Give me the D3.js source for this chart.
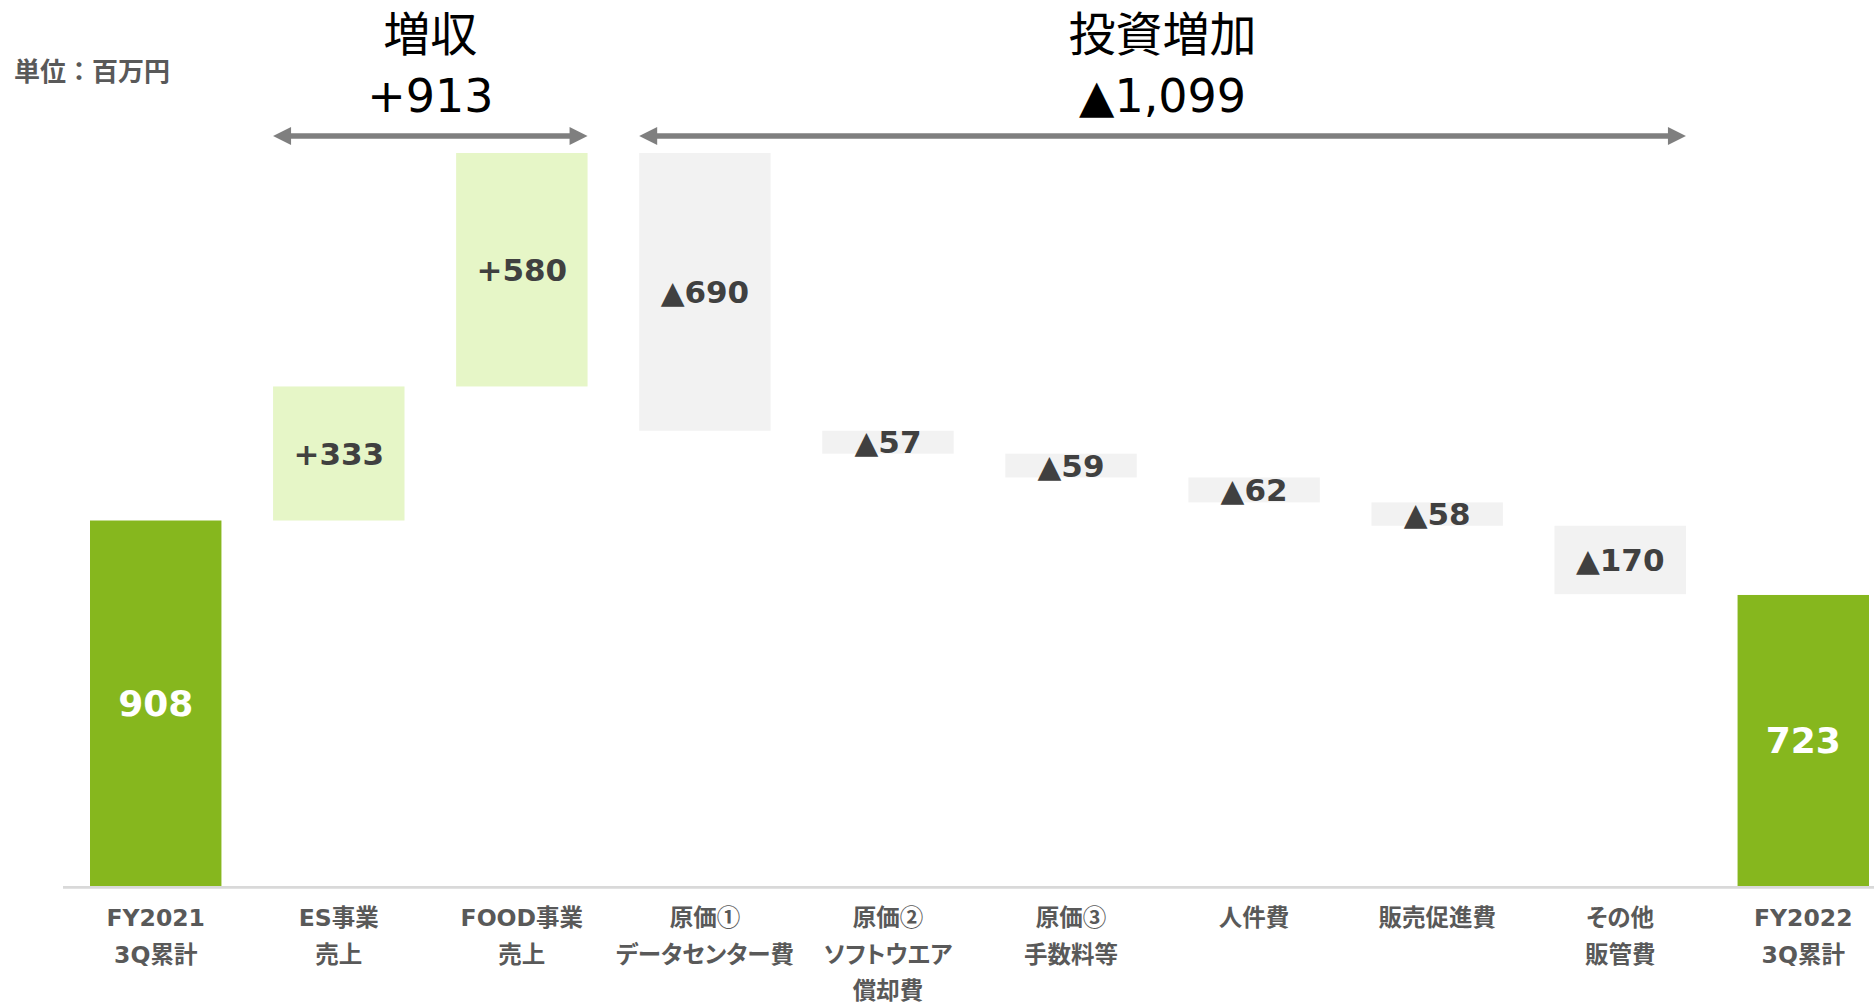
<!DOCTYPE html>
<html>
<head>
<meta charset="utf-8">
<script src="https://cdn.jsdelivr.net/npm/d3@7"></script>
<style>
  html, body { margin: 0; padding: 0; background: #ffffff; }
  svg { display: block; }
  text { font-feature-settings: "palt"; }
  text.unit { font-feature-settings: normal; }
  tspan.circled { font-family: 'Noto Sans CJK JP', sans-serif; font-feature-settings: normal; }
</style>
</head>
<body>
<svg id="chart" width="1874" height="1006"></svg>
<script>
// Operating profit bridge, FY2021 3Q → FY2022 3Q (million yen)
const categories = ["FY2021 3Q累計", "ES事業 売上", "FOOD事業 売上", "原価① データセンター費",
  "原価② ソフトウエア 償却費", "原価③ 手数料等", "人件費", "販売促進費", "その他 販管費", "FY2022 3Q累計"];
const categoryLines = [
  ["FY2021", "3Q累計"], ["ES事業", "売上"], ["FOOD事業", "売上"], ["原価①", "データセンター費"],
  ["原価②", "ソフトウエア", "償却費"], ["原価③", "手数料等"], ["人件費"], ["販売促進費"],
  ["その他", "販管費"], ["FY2022", "3Q累計"]
];
const values = [908, 333, 580, -690, -57, -59, -62, -58, -170, 723];
const barTypes = ["total", "increase", "increase", "decrease", "decrease", "decrease",
  "decrease", "decrease", "decrease", "total"];

const groupTitles = ["増収", "投資増加"];
const groupValueLabels = ["+913", "▲1,099"];
const groupSpans = [[1, 2], [3, 8]];
const unitLabel = "単位：百万円";

const colors = { total: "#86B71E", increase: "#E6F6C7", decrease: "#F2F2F2" };
const latinCjk = "'DejaVu Sans', 'Noto Sans CJK JP', sans-serif";

// Build the floating segments of the waterfall
let running = 0;
const bars = values.map((v, i) => {
  let lo, hi;
  if (barTypes[i] === "total") { lo = 0; hi = v; running = v; }
  else { const start = running; running += v; lo = Math.min(start, running); hi = Math.max(start, running); }
  return { cat: categories[i], value: v, type: barTypes[i], lo, hi };
});

const svg = d3.select("#chart");

const x = d3.scaleBand().domain(categories).range([90, 1869]).paddingInner(0.282).paddingOuter(0);
const y = d3.scaleLinear().domain([0, 1821]).range([886, 153]);

// Bars
svg.append("g").selectAll("rect").data(bars).join("rect")
  .attr("x", d => x(d.cat))
  .attr("width", x.bandwidth())
  .attr("y", d => y(d.hi))
  .attr("height", d => y(d.lo) - y(d.hi))
  .attr("fill", d => colors[d.type]);

// Value labels centred in each bar
const fmt = d3.format(",");
svg.append("g").selectAll("text").data(bars).join("text")
  .attr("x", d => x(d.cat) + x.bandwidth() / 2)
  .attr("y", d => (y(d.lo) + y(d.hi)) / 2)
  .attr("dy", "0.36em")
  .attr("text-anchor", "middle")
  .attr("font-family", latinCjk)
  .attr("font-weight", "bold")
  .attr("font-size", d => d.type === "total" ? 36 : 31)
  .attr("fill", d => d.type === "total" ? "#ffffff" : "#404040")
  .text(d => d.type === "total" ? fmt(d.value) : (d.value > 0 ? "+" : "▲") + fmt(Math.abs(d.value)));

// Baseline
svg.append("line")
  .attr("x1", 63).attr("x2", 1874)
  .attr("y1", y(0) + 1.4).attr("y2", y(0) + 1.4)
  .attr("stroke", "#D9D9D9").attr("stroke-width", 2.6);

// Category axis with multi-line labels (circled numerals set in the CJK face)
const axis = svg.append("g")
  .attr("transform", `translate(0,${y(0)})`)
  .call(d3.axisBottom(x).tickSize(0).tickPadding(0));
axis.select(".domain").remove();
axis.selectAll(".tick text").each(function (d, i) {
  const t = d3.select(this);
  t.text(null).attr("y", 0).attr("dy", null)
    .attr("font-family", latinCjk)
    .attr("font-weight", "bold")
    .attr("font-size", 23.5)
    .attr("fill", "#595959");
  categoryLines[i].forEach((line, k) => {
    const row = t.append("tspan").attr("x", 0).attr("y", 40 + k * 36.5);
    line.split(/([\u2460-\u2473])/).filter(s => s.length).forEach(part => {
      const sp = row.append("tspan").text(part);
      if (/^[\u2460-\u2473]$/.test(part)) sp.attr("class", "circled");
    });
  });
});

// Group brackets: double-headed arrows with headings
const arrowY = 136, headLen = 18, headHalf = 9;
const arrowColor = "#7F7F7F";
groupSpans.forEach(([a, b], gi) => {
  const x0 = x(categories[a]);
  const x1 = x(categories[b]) + x.bandwidth();
  const g = svg.append("g");
  g.append("line")
    .attr("x1", x0 + headLen - 2).attr("x2", x1 - headLen + 2)
    .attr("y1", arrowY).attr("y2", arrowY)
    .attr("stroke", arrowColor).attr("stroke-width", 5.5);
  g.append("path")
    .attr("d", `M${x0},${arrowY} L${x0 + headLen},${arrowY - headHalf} L${x0 + headLen},${arrowY + headHalf} Z`)
    .attr("fill", arrowColor);
  g.append("path")
    .attr("d", `M${x1},${arrowY} L${x1 - headLen},${arrowY - headHalf} L${x1 - headLen},${arrowY + headHalf} Z`)
    .attr("fill", arrowColor);
  const cx = (x0 + x1) / 2;
  g.append("text")
    .attr("x", cx).attr("y", 51)
    .attr("text-anchor", "middle")
    .attr("font-family", latinCjk)
    .attr("font-size", 47)
    .attr("fill", "#000000")
    .text(groupTitles[gi]);
  g.append("text")
    .attr("x", cx).attr("y", 112)
    .attr("text-anchor", "middle")
    .attr("font-family", latinCjk)
    .attr("font-size", 46)
    .attr("fill", "#000000")
    .text(groupValueLabels[gi]);
});

// Unit note
svg.append("text")
  .attr("class", "unit")
  .attr("x", 14).attr("y", 81)
  .attr("font-family", "'Noto Sans CJK JP', sans-serif")
  .attr("font-weight", "bold")
  .attr("font-size", 26)
  .attr("fill", "#595959")
  .text(unitLabel);
</script>
</body>
</html>
